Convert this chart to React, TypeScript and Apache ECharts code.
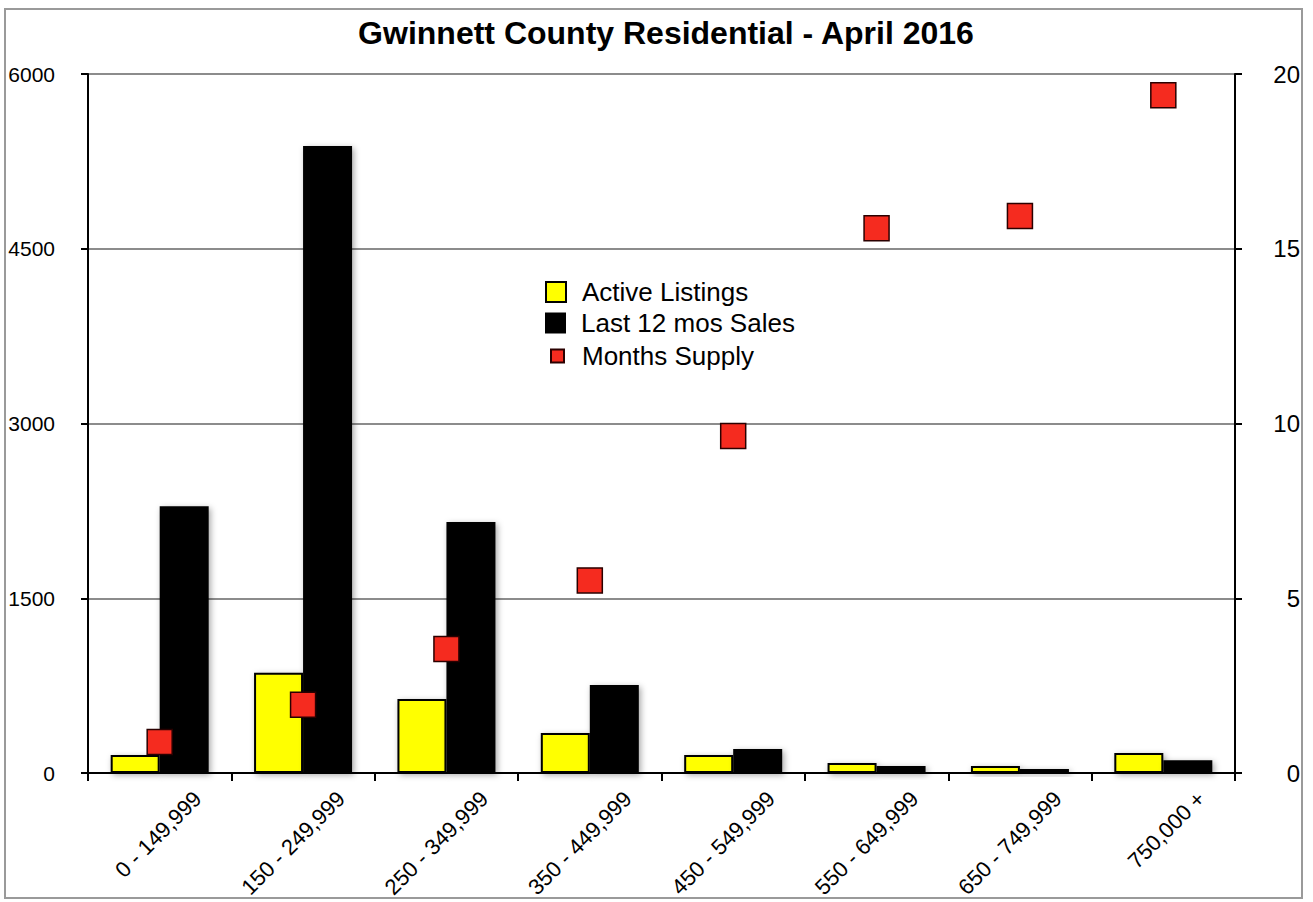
import React, { useEffect, useRef } from "react";
import * as echarts from "echarts";

const categories = [
  "0 - 149,999",
  "150 - 249,999",
  "250 - 349,999",
  "350 - 449,999",
  "450 - 549,999",
  "550 - 649,999",
  "650 - 749,999",
  "750,000 +",
];
const activeListings = [155, 860, 635, 343, 155, 86, 60, 172];
const lastSales = [2290, 5382, 2155, 755, 206, 60, 34, 110];
const monthsSupply = [0.89, 1.95, 3.55, 5.51, 9.64, 15.59, 15.94, 19.39];
const leftTicks = { min: 0, max: 6000, interval: 1500 };
const rightTicks = { min: 0, max: 20, interval: 5 };

const FONT = "'Liberation Sans', Arial, Helvetica, sans-serif";

export default function App() {
  const ref = useRef<HTMLDivElement>(null);
  useEffect(() => {
    if (!ref.current) return;
    const chart = echarts.init(ref.current, null, { renderer: "svg" });
    const shadow = {
      shadowBlur: 6,
      shadowColor: "rgba(0,0,0,0.35)",
      shadowOffsetX: 2,
      shadowOffsetY: 2,
    };
    const gridL = 88, gridR = 78, gridT = 74, gridB = 129;
    const labelShift = 38;
    chart.setOption({
      animation: false,
      backgroundColor: "#ffffff",
      textStyle: { fontFamily: FONT },
      title: {
        text: "Gwinnett County Residential - April 2016",
        left: 661,
        top: 12,
        textAlign: "center",
        textStyle: { fontSize: 32, fontWeight: "bold", color: "#000", fontFamily: FONT },
      },
      graphic: [
        {
          type: "rect",
          shape: { x: 5, y: 9, width: 1297, height: 889 },
          style: { fill: "none", stroke: "#9a9a9a", lineWidth: 2 },
          silent: true,
        },
      ],
      legend: [
        {
          data: ["Active Listings"],
          orient: "vertical",
          left: 545,
          top: 279,
          padding: 0,
          icon: "rect",
          itemWidth: 20,
          itemHeight: 20,
          textStyle: { fontSize: 26, color: "#000", fontFamily: FONT, padding: [0, 0, 0, 11] },
        },
        {
          data: ["Last 12 mos Sales"],
          orient: "vertical",
          left: 545,
          top: 310,
          padding: 0,
          icon: "rect",
          itemWidth: 21,
          itemHeight: 21,
          textStyle: { fontSize: 26, color: "#000", fontFamily: FONT, padding: [0, 0, 0, 10] },
        },
        {
          data: ["Months Supply"],
          orient: "vertical",
          left: 550,
          top: 343,
          padding: 0,
          icon: "rect",
          itemWidth: 13,
          itemHeight: 13,
          textStyle: { fontSize: 26, color: "#000", fontFamily: FONT, padding: [0, 0, 0, 13] },
        },
      ],
      grid: [
        { left: gridL, right: gridR, top: gridT, bottom: gridB },
        { left: gridL + labelShift, right: gridR - labelShift, top: gridT, bottom: gridB },
      ],
      xAxis: [
        {
          type: "category",
          data: categories,
          gridIndex: 0,
          axisLine: { show: true, lineStyle: { color: "#000", width: 2 } },
          axisTick: { show: true, length: 8, lineStyle: { color: "#000", width: 2 } },
          axisLabel: { show: false },
          splitLine: { show: false },
        },
        {
          type: "category",
          data: categories,
          gridIndex: 1,
          axisLine: { show: false },
          axisTick: { show: false },
          axisLabel: {
            show: true,
            rotate: 45,
            interval: 0,
            margin: 22,
            fontSize: 22,
            color: "#000",
            fontFamily: FONT,
          },
          splitLine: { show: false },
        },
      ],
      yAxis: [
        {
          type: "value",
          gridIndex: 0,
          position: "left",
          min: leftTicks.min,
          max: leftTicks.max,
          interval: leftTicks.interval,
          axisLine: { show: true, lineStyle: { color: "#000", width: 2 } },
          axisTick: { show: true, length: 7, lineStyle: { color: "#000", width: 2 } },
          axisLabel: {
            fontSize: 21,
            color: "#000",
            margin: 33,
            align: "right",
            fontFamily: FONT,
            formatter: (v: number) => String(v),
          },
          splitLine: { show: true, lineStyle: { color: "#8c8c8c", width: 2 } },
        },
        {
          type: "value",
          gridIndex: 0,
          position: "right",
          min: rightTicks.min,
          max: rightTicks.max,
          interval: rightTicks.interval,
          axisLine: { show: true, lineStyle: { color: "#000", width: 2 } },
          axisTick: { show: true, length: 7, lineStyle: { color: "#000", width: 2 } },
          axisLabel: {
            fontSize: 24,
            color: "#000",
            margin: 65,
            align: "right",
            fontFamily: FONT,
            formatter: (v: number) => String(v),
          },
          splitLine: { show: false },
        },
        {
          type: "value",
          gridIndex: 1,
          show: false,
          min: 0,
          max: 1,
        },
      ],
      series: [
        {
          name: "Active Listings",
          type: "bar",
          xAxisIndex: 0,
          yAxisIndex: 0,
          data: activeListings,
          barWidth: 49,
          barGap: "0%",
          itemStyle: { color: "#FFFF00", borderColor: "#000", borderWidth: 2, ...shadow },
        },
        {
          name: "Last 12 mos Sales",
          type: "bar",
          xAxisIndex: 0,
          yAxisIndex: 0,
          data: lastSales,
          barWidth: 49,
          barGap: "0%",
          itemStyle: { color: "#000000", borderColor: "#000", borderWidth: 0, ...shadow },
        },
        {
          name: "Months Supply",
          type: "scatter",
          xAxisIndex: 0,
          yAxisIndex: 1,
          data: monthsSupply,
          symbol: "rect",
          symbolSize: 25,
          z: 5,
          itemStyle: { color: "#F52B1F", borderColor: "#2a0000", borderWidth: 1.5, opacity: 1 },
        },
      ],
    });
    return () => chart.dispose();
  }, []);
  return (
    <div
      ref={ref}
      style={{ position: "absolute", left: 0, top: 0, width: 1313, height: 902 }}
    />
  );
}
